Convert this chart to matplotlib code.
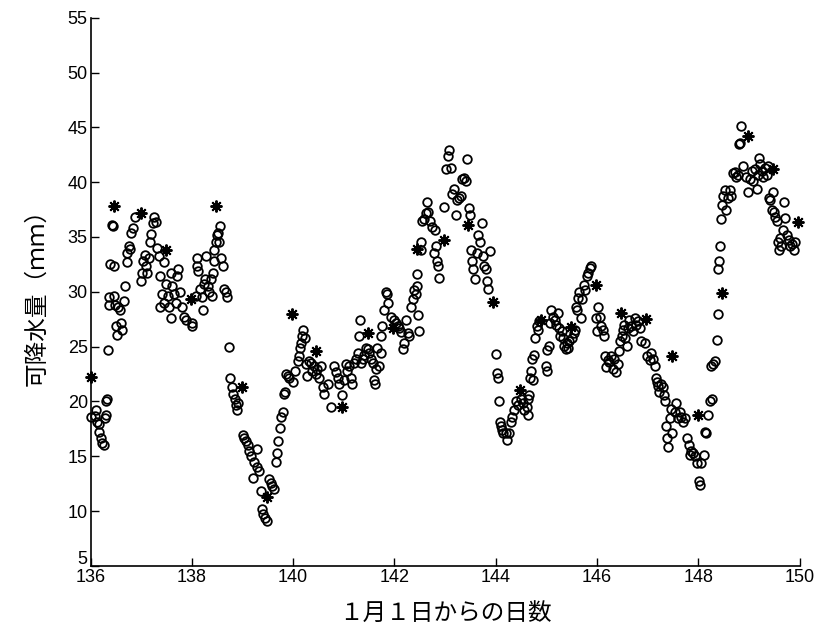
import numpy as np
import matplotlib
matplotlib.use("Agg")
import matplotlib.pyplot as plt
import matplotlib.transforms as mtransforms

plt.rcParams['font.family'] = ['Liberation Sans', 'Noto Sans CJK JP', 'DejaVu Sans']

# asterisks (sonde) : day, precipitable water (mm)
star_day = [136.00, 136.46, 136.99, 137.48, 137.98, 138.47, 138.98, 139.49, 139.97,
            140.46, 140.96, 141.47, 141.98, 142.45, 142.97, 143.45, 143.95, 144.48,
            144.89, 145.49, 145.98, 146.48, 146.97, 147.48, 147.99, 148.46, 148.98,
            149.48, 149.97]
star_pw = [22.2, 37.8, 37.2, 33.8, 29.3, 37.8, 21.3, 11.3, 28.0,
           24.6, 19.5, 26.2, 26.7, 33.9, 34.7, 36.1, 29.1, 21.0,
           27.4, 26.8, 30.6, 28.1, 27.5, 24.1, 18.8, 29.9, 44.2,
           41.2, 36.4]

# open circles : day
circ_day = [
    136.00, 136.08, 136.10, 136.13, 136.16, 136.16, 136.20, 136.23, 136.26, 136.28,
    136.30, 136.30, 136.32, 136.34, 136.36, 136.36, 136.38, 136.43, 136.44, 136.46,
    136.46, 136.49, 136.50, 136.53, 136.54, 136.58, 136.61, 136.63, 136.66, 136.68,
    136.71, 136.72, 136.76, 136.78, 136.80, 136.84, 136.87, 136.99, 137.02, 137.04,
    137.07, 137.10, 137.12, 137.15, 137.17, 137.20, 137.24, 137.25, 137.29, 137.32,
    137.35, 137.38, 137.38, 137.42, 137.45, 137.45, 137.48, 137.52, 137.55, 137.58,
    137.58, 137.61, 137.65, 137.68, 137.71, 137.73, 137.77, 137.81, 137.85, 137.88,
    138.01, 138.01, 138.08, 138.10, 138.11, 138.12, 138.16, 138.19, 138.21, 138.23,
    138.25, 138.27, 138.31, 138.34, 138.37, 138.39, 138.41, 138.43, 138.44, 138.47,
    138.49, 138.52, 138.54, 138.56, 138.58, 138.62, 138.64, 138.67, 138.70, 138.73,
    138.75, 138.80, 138.82, 138.85, 138.87, 138.90, 138.91, 139.00, 139.03, 139.06,
    139.10, 139.13, 139.16, 139.20, 139.23, 139.28, 139.29, 139.33, 139.36, 139.39,
    139.41, 139.44, 139.49, 139.53, 139.56, 139.59, 139.62, 139.66, 139.69, 139.71,
    139.74, 139.76, 139.79, 139.81, 139.84, 139.86, 139.89, 139.92, 139.99, 140.03,
    140.09, 140.12, 140.14, 140.16, 140.18, 140.20, 140.23, 140.25, 140.28, 140.32,
    140.35, 140.38, 140.42, 140.45, 140.48, 140.51, 140.55, 140.58, 140.61, 140.68,
    140.74, 140.81, 140.84, 140.88, 140.91, 140.97, 141.01, 141.04, 141.07, 141.11,
    141.14, 141.17, 141.20, 141.24, 141.27, 141.30, 141.32, 141.34, 141.37, 141.40,
    141.43, 141.47, 141.50, 141.53, 141.57, 141.60, 141.62, 141.63, 141.66, 141.70,
    141.73, 141.74, 141.76, 141.80, 141.83, 141.85, 141.88, 141.93, 141.99, 142.03,
    142.06, 142.09, 142.13, 142.16, 142.19, 142.22, 142.26, 142.29, 142.32, 142.36,
    142.39, 142.42, 142.44, 142.45, 142.47, 142.49, 142.52, 142.53, 142.55, 142.59,
    142.62, 142.64, 142.66, 142.70, 142.75, 142.78, 142.80, 142.82, 142.84, 142.85,
    142.88, 142.98, 143.01, 143.05, 143.08, 143.11, 143.14, 143.18, 143.21, 143.24,
    143.28, 143.31, 143.34, 143.38, 143.41, 143.43, 143.47, 143.49, 143.52, 143.54,
    143.56, 143.59, 143.63, 143.65, 143.69, 143.72, 143.74, 143.77, 143.80, 143.82,
    143.85, 143.88, 144.00, 144.02, 144.05, 144.07, 144.09, 144.11, 144.13, 144.15,
    144.20, 144.23, 144.26, 144.30, 144.33, 144.36, 144.39, 144.43, 144.49, 144.53,
    144.56, 144.61, 144.63, 144.63, 144.66, 144.68, 144.69, 144.71, 144.73, 144.75,
    144.77, 144.81, 144.84, 144.86, 144.99, 145.01, 145.02, 145.06, 145.08, 145.10,
    145.12, 145.16, 145.19, 145.22, 145.25, 145.27, 145.30, 145.32, 145.35, 145.39,
    145.41, 145.43, 145.45, 145.50, 145.54, 145.56, 145.58, 145.60, 145.63, 145.65,
    145.68, 145.70, 145.74, 145.76, 145.80, 145.83, 145.87, 145.88, 145.98, 146.00,
    146.01, 146.05, 146.08, 146.11, 146.13, 146.15, 146.18, 146.21, 146.24, 146.28,
    146.31, 146.34, 146.37, 146.41, 146.44, 146.46, 146.49, 146.51, 146.53, 146.55,
    146.59, 146.61, 146.64, 146.67, 146.71, 146.74, 146.77, 146.81, 146.84, 146.87,
    146.94, 146.99, 147.04, 147.07, 147.10, 147.14, 147.17, 147.19, 147.21, 147.23,
    147.27, 147.30, 147.32, 147.35, 147.37, 147.39, 147.40, 147.43, 147.45, 147.48,
    147.53, 147.56, 147.60, 147.63, 147.66, 147.70, 147.73, 147.78, 147.81, 147.83,
    147.86, 147.90, 147.93, 147.98, 148.01, 148.03, 148.06, 148.11, 148.13, 148.16,
    148.19, 148.22, 148.24, 148.26, 148.29, 148.32, 148.36, 148.38, 148.39, 148.41,
    148.42, 148.45, 148.47, 148.49, 148.52, 148.55, 148.59, 148.62, 148.65, 148.69,
    148.72, 148.75, 148.79, 148.80, 148.82, 148.85, 148.88, 148.95, 148.98, 149.02,
    149.05, 149.08, 149.12, 149.15, 149.17, 149.19, 149.21, 149.25, 149.28, 149.31,
    149.35, 149.38, 149.40, 149.42, 149.45, 149.48, 149.50, 149.52, 149.55, 149.57,
    149.60, 149.62, 149.64, 149.68, 149.70, 149.72, 149.74, 149.78, 149.81, 149.84,
    149.88, 149.90,
]
# open circles : precipitable water (mm)
circ_pw = [
    18.6, 18.7, 19.2, 18.1, 17.9, 17.2, 16.7, 16.2, 16.0, 18.5,
    18.8, 20.0, 20.2, 24.7, 29.5, 28.8, 32.5, 36.1, 36.0, 32.4,
    29.6, 28.8, 26.9, 26.1, 28.6, 28.3, 27.2, 26.5, 29.2, 30.5,
    32.7, 33.5, 34.2, 33.9, 35.4, 35.8, 36.8, 31.0, 31.7, 32.8,
    33.4, 32.4, 31.7, 33.1, 34.5, 35.3, 36.3, 36.8, 36.4, 34.0,
    33.3, 31.4, 28.6, 29.8, 29.0, 32.7, 30.7, 29.6, 28.6, 27.6,
    31.7, 30.5, 29.8, 29.0, 31.4, 32.1, 30.0, 28.6, 27.7, 27.4,
    26.9, 27.2, 29.6, 32.4, 33.1, 31.9, 30.3, 29.5, 28.3, 30.7,
    31.2, 33.3, 30.5, 30.0, 31.2, 29.6, 31.7, 32.8, 33.8, 34.5,
    35.2, 35.4, 34.5, 36.0, 33.1, 32.4, 30.3, 30.0, 29.5, 25.0,
    22.1, 21.3, 20.7, 20.2, 19.7, 19.2, 19.9, 16.9, 16.7, 16.4,
    16.0, 15.5, 15.0, 13.0, 14.5, 15.7, 14.0, 13.7, 11.8, 10.2,
    9.7, 9.4, 9.1, 12.9, 12.6, 12.3, 12.0, 14.5, 15.3, 16.4,
    17.6, 18.6, 19.0, 20.7, 20.9, 22.5, 22.3, 22.1, 21.8, 22.8,
    23.7, 24.1, 24.9, 25.3, 26.0, 26.5, 25.8, 23.4, 22.3, 23.7,
    23.5, 22.8, 23.2, 22.5, 23.0, 22.1, 23.2, 21.3, 20.7, 21.6,
    19.5, 23.2, 22.7, 22.1, 21.6, 20.6, 22.0, 23.4, 22.8, 23.2,
    22.1, 21.6, 23.5, 23.9, 24.4, 26.0, 27.4, 23.5, 23.9, 24.2,
    24.9, 24.8, 24.4, 23.9, 23.5, 22.0, 21.6, 23.0, 24.9, 23.2,
    24.4, 26.0, 26.9, 28.3, 30.0, 29.8, 29.0, 27.7, 27.4, 27.2,
    26.9, 26.7, 26.3, 24.8, 25.3, 27.4, 26.2, 26.0, 28.6, 29.3,
    30.2, 29.8, 30.5, 31.6, 27.9, 26.4, 33.8, 34.5, 36.5, 36.6,
    37.2, 38.2, 37.3, 36.5, 35.9, 33.5, 35.6, 34.2, 32.8, 32.4,
    31.3, 37.7, 41.2, 42.4, 42.9, 41.3, 38.9, 39.4, 37.0, 38.4,
    38.6, 38.7, 40.3, 40.4, 40.1, 42.1, 37.6, 37.0, 33.8, 32.8,
    32.1, 31.2, 33.5, 35.2, 34.5, 36.3, 33.3, 32.4, 32.1, 31.0,
    30.3, 33.7, 24.3, 22.6, 22.1, 20.0, 18.1, 17.8, 17.4, 17.1,
    17.1, 16.5, 17.1, 18.1, 18.6, 19.2, 20.0, 19.7, 20.2, 19.9,
    19.2, 19.5, 18.8, 20.2, 20.6, 22.1, 22.8, 23.9, 22.0, 24.2,
    25.8, 26.9, 26.5, 27.3, 23.2, 22.8, 24.7, 25.1, 27.2, 28.3,
    27.7, 27.4, 27.0, 28.1, 26.7, 26.0, 26.4, 25.8, 25.1, 24.8,
    25.3, 24.9, 25.5, 25.8, 26.2, 26.5, 28.6, 28.3, 29.4, 30.0,
    27.6, 29.3, 30.6, 30.2, 31.4, 31.7, 32.2, 32.4, 27.6, 26.4,
    28.6, 27.7, 26.9, 26.5, 26.0, 24.1, 23.1, 23.8, 23.6, 24.1,
    23.0, 23.9, 22.7, 23.4, 24.6, 25.5, 26.0, 26.5, 27.0, 25.8,
    25.1, 26.7, 27.4, 26.9, 26.4, 27.6, 27.0, 27.3, 26.7, 25.5,
    25.3, 24.1, 23.8, 24.4, 23.9, 23.2, 22.1, 21.8, 21.4, 20.9,
    21.6, 21.3, 20.6, 20.0, 17.8, 16.7, 15.8, 18.5, 19.3, 17.1,
    19.0, 19.9, 18.5, 19.0, 18.6, 18.1, 18.5, 16.7, 16.0, 15.1,
    15.5, 15.3, 15.0, 14.4, 12.7, 12.4, 14.4, 15.1, 17.2, 17.1,
    18.8, 20.0, 23.2, 20.2, 23.4, 23.7, 25.6, 28.0, 32.1, 32.8,
    34.2, 36.6, 37.9, 38.7, 39.3, 37.5, 38.6, 39.3, 38.7, 40.8,
    40.9, 40.5, 40.7, 43.5, 43.6, 45.1, 41.5, 40.5, 39.1, 40.3,
    41.0, 40.1, 41.2, 39.4, 40.7, 42.2, 41.7, 41.0, 40.5, 41.3,
    40.7, 41.5, 38.6, 38.4, 37.5, 39.1, 37.3, 36.8, 36.5, 34.5,
    33.8, 34.9, 34.2, 35.6, 38.2, 36.7, 35.2, 34.7, 34.2, 34.4,
    33.8, 34.5,
]

xticks = [136, 138, 140, 142, 144, 146, 148, 150]
yticks = [5, 10, 15, 20, 25, 30, 35, 40, 45, 50, 55]

fig = plt.figure(figsize=(8.16, 6.33), dpi=100)
ax = fig.add_axes([0.111, 0.106, 0.869, 0.866])

ax.plot(circ_day, circ_pw, 'o', ms=6.2, mfc='none', mec='black', mew=1.3, ls='none',
        clip_on=False)
ax.plot(star_day, star_pw, marker=(8, 2, 0), ms=8.5, mec='black', mew=1.4, ls='none',
        clip_on=False)

ax.set_xlim(136, 150)
ax.set_ylim(5, 55)
ax.set_xticks(xticks)
ax.set_yticks(yticks)
ax.tick_params(direction='in', length=6, width=1.0, labelsize=13)
ax.tick_params(axis='x', pad=2)
ax.tick_params(axis='y', pad=2)
for s in ['top', 'right']:
    ax.spines[s].set_visible(False)
for s in ['left', 'bottom']:
    ax.spines[s].set_linewidth(1.2)

# lift the bottom "5" so it sits above the "136" label, as in the original
lbl5 = ax.get_yticklabels()[0]
lbl5.set_transform(lbl5.get_transform() +
                   mtransforms.ScaledTranslation(0, 6 / 72, fig.dpi_scale_trans))

jp = ['Noto Sans CJK JP', 'DejaVu Sans']
ax.set_xlabel('１月１日からの日数', fontsize=17, family=jp, labelpad=12)
ax.set_ylabel('可降水量（ｍｍ）', fontsize=17, family=jp, labelpad=14)

fig.savefig('out.png', dpi=100)
